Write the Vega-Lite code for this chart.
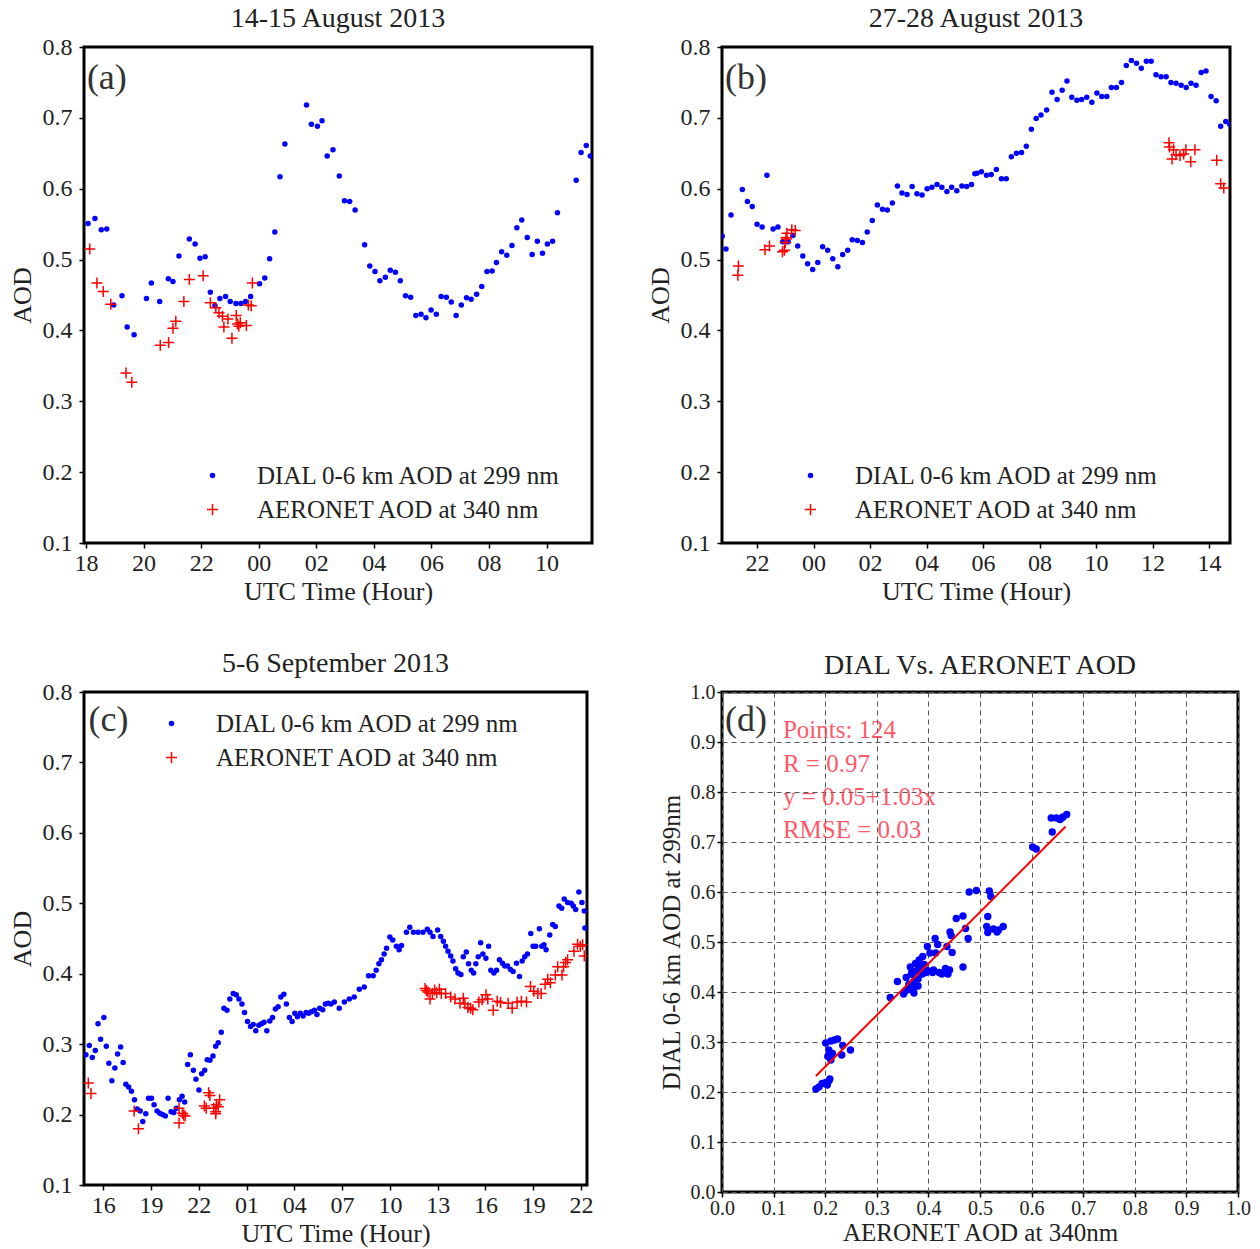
{
"$schema": "https://vega.github.io/schema/vega-lite/v6.json",
"background": "white",
"padding": {"left": 7, "top": 3, "right": 5, "bottom": 2},
"datasets": {
"a": [
{"hour":18.07,"aod":0.551,"series":"DIAL"},{"hour":18.31,"aod":0.558,"series":"DIAL"},{"hour":18.53,"aod":0.542,"series":"DIAL"},{"hour":18.72,"aod":0.543,"series":"DIAL"},{"hour":18.96,"aod":0.436,"series":"DIAL"},{"hour":19.25,"aod":0.449,"series":"DIAL"},{"hour":19.43,"aod":0.405,"series":"DIAL"},{"hour":19.67,"aod":0.394,"series":"DIAL"},{"hour":20.10,"aod":0.445,"series":"DIAL"},{"hour":20.27,"aod":0.467,"series":"DIAL"},{"hour":20.56,"aod":0.441,"series":"DIAL"},{"hour":20.86,"aod":0.473,"series":"DIAL"},{"hour":21.02,"aod":0.469,"series":"DIAL"},{"hour":21.23,"aod":0.505,"series":"DIAL"},{"hour":21.59,"aod":0.529,"series":"DIAL"},{"hour":21.79,"aod":0.522,"series":"DIAL"},{"hour":21.96,"aod":0.502,"series":"DIAL"},{"hour":22.14,"aod":0.504,"series":"DIAL"},{"hour":22.32,"aod":0.454,"series":"DIAL"},{"hour":22.48,"aod":0.435,"series":"DIAL"},{"hour":22.65,"aod":0.445,"series":"DIAL"},{"hour":22.85,"aod":0.448,"series":"DIAL"},{"hour":23.01,"aod":0.441,"series":"DIAL"},{"hour":23.21,"aod":0.438,"series":"DIAL"},{"hour":23.38,"aod":0.438,"series":"DIAL"},{"hour":23.54,"aod":0.441,"series":"DIAL"},{"hour":23.72,"aod":0.448,"series":"DIAL"},{"hour":24.03,"aod":0.466,"series":"DIAL"},{"hour":24.21,"aod":0.474,"series":"DIAL"},{"hour":24.38,"aod":0.501,"series":"DIAL"},{"hour":24.56,"aod":0.539,"series":"DIAL"},{"hour":24.74,"aod":0.617,"series":"DIAL"},{"hour":24.91,"aod":0.663,"series":"DIAL"},{"hour":25.66,"aod":0.718,"series":"DIAL"},{"hour":25.83,"aod":0.691,"series":"DIAL"},{"hour":26.04,"aod":0.688,"series":"DIAL"},{"hour":26.20,"aod":0.696,"series":"DIAL"},{"hour":26.38,"aod":0.646,"series":"DIAL"},{"hour":26.58,"aod":0.655,"series":"DIAL"},{"hour":26.80,"aod":0.618,"series":"DIAL"},{"hour":26.98,"aod":0.583,"series":"DIAL"},{"hour":27.16,"aod":0.582,"series":"DIAL"},{"hour":27.35,"aod":0.570,"series":"DIAL"},{"hour":27.68,"aod":0.521,"series":"DIAL"},{"hour":27.86,"aod":0.491,"series":"DIAL"},{"hour":28.04,"aod":0.483,"series":"DIAL"},{"hour":28.21,"aod":0.470,"series":"DIAL"},{"hour":28.40,"aod":0.475,"series":"DIAL"},{"hour":28.57,"aod":0.485,"series":"DIAL"},{"hour":28.75,"aod":0.482,"series":"DIAL"},{"hour":28.92,"aod":0.470,"series":"DIAL"},{"hour":29.10,"aod":0.449,"series":"DIAL"},{"hour":29.28,"aod":0.447,"series":"DIAL"},{"hour":29.46,"aod":0.421,"series":"DIAL"},{"hour":29.64,"aod":0.423,"series":"DIAL"},{"hour":29.81,"aod":0.418,"series":"DIAL"},{"hour":29.99,"aod":0.429,"series":"DIAL"},{"hour":30.17,"aod":0.423,"series":"DIAL"},{"hour":30.34,"aod":0.448,"series":"DIAL"},{"hour":30.52,"aod":0.447,"series":"DIAL"},{"hour":30.69,"aod":0.440,"series":"DIAL"},{"hour":30.86,"aod":0.421,"series":"DIAL"},{"hour":31.04,"aod":0.436,"series":"DIAL"},{"hour":31.22,"aod":0.446,"series":"DIAL"},{"hour":31.38,"aod":0.444,"series":"DIAL"},{"hour":31.57,"aod":0.451,"series":"DIAL"},{"hour":31.75,"aod":0.462,"series":"DIAL"},{"hour":31.93,"aod":0.483,"series":"DIAL"},{"hour":32.11,"aod":0.484,"series":"DIAL"},{"hour":32.26,"aod":0.496,"series":"DIAL"},{"hour":32.44,"aod":0.511,"series":"DIAL"},{"hour":32.62,"aod":0.506,"series":"DIAL"},{"hour":32.80,"aod":0.520,"series":"DIAL"},{"hour":32.97,"aod":0.545,"series":"DIAL"},{"hour":33.14,"aod":0.556,"series":"DIAL"},{"hour":33.33,"aod":0.531,"series":"DIAL"},{"hour":33.50,"aod":0.507,"series":"DIAL"},{"hour":33.68,"aod":0.526,"series":"DIAL"},{"hour":33.86,"aod":0.509,"series":"DIAL"},{"hour":34.03,"aod":0.522,"series":"DIAL"},{"hour":34.21,"aod":0.526,"series":"DIAL"},{"hour":34.38,"aod":0.566,"series":"DIAL"},{"hour":35.03,"aod":0.612,"series":"DIAL"},{"hour":35.20,"aod":0.651,"series":"DIAL"},{"hour":35.38,"aod":0.661,"series":"DIAL"},{"hour":35.52,"aod":0.646,"series":"DIAL"},
{"hour":18.13,"aod":0.515,"series":"AERONET"},{"hour":18.38,"aod":0.467,"series":"AERONET"},{"hour":18.60,"aod":0.455,"series":"AERONET"},{"hour":18.86,"aod":0.437,"series":"AERONET"},{"hour":19.39,"aod":0.340,"series":"AERONET"},{"hour":19.59,"aod":0.327,"series":"AERONET"},{"hour":20.58,"aod":0.379,"series":"AERONET"},{"hour":20.87,"aod":0.383,"series":"AERONET"},{"hour":21.02,"aod":0.403,"series":"AERONET"},{"hour":21.12,"aod":0.413,"series":"AERONET"},{"hour":21.40,"aod":0.441,"series":"AERONET"},{"hour":21.59,"aod":0.472,"series":"AERONET"},{"hour":22.07,"aod":0.477,"series":"AERONET"},{"hour":22.32,"aod":0.439,"series":"AERONET"},{"hour":22.51,"aod":0.432,"series":"AERONET"},{"hour":22.62,"aod":0.425,"series":"AERONET"},{"hour":22.74,"aod":0.420,"series":"AERONET"},{"hour":22.79,"aod":0.405,"series":"AERONET"},{"hour":22.93,"aod":0.416,"series":"AERONET"},{"hour":23.07,"aod":0.389,"series":"AERONET"},{"hour":23.22,"aod":0.421,"series":"AERONET"},{"hour":23.26,"aod":0.409,"series":"AERONET"},{"hour":23.31,"aod":0.406,"series":"AERONET"},{"hour":23.36,"aod":0.411,"series":"AERONET"},{"hour":23.57,"aod":0.407,"series":"AERONET"},{"hour":23.64,"aod":0.436,"series":"AERONET"},{"hour":23.74,"aod":0.435,"series":"AERONET"},{"hour":23.78,"aod":0.467,"series":"AERONET"}
],
"b": [
{"hour":20.77,"aod":0.533,"series":"DIAL"},{"hour":20.90,"aod":0.515,"series":"DIAL"},{"hour":21.08,"aod":0.563,"series":"DIAL"},{"hour":21.48,"aod":0.599,"series":"DIAL"},{"hour":21.66,"aod":0.582,"series":"DIAL"},{"hour":21.83,"aod":0.575,"series":"DIAL"},{"hour":22.00,"aod":0.550,"series":"DIAL"},{"hour":22.18,"aod":0.546,"series":"DIAL"},{"hour":22.35,"aod":0.619,"series":"DIAL"},{"hour":22.57,"aod":0.543,"series":"DIAL"},{"hour":22.74,"aod":0.546,"series":"DIAL"},{"hour":22.91,"aod":0.525,"series":"DIAL"},{"hour":23.10,"aod":0.525,"series":"DIAL"},{"hour":23.27,"aod":0.534,"series":"DIAL"},{"hour":23.44,"aod":0.519,"series":"DIAL"},{"hour":23.62,"aod":0.505,"series":"DIAL"},{"hour":23.79,"aod":0.494,"series":"DIAL"},{"hour":23.97,"aod":0.486,"series":"DIAL"},{"hour":24.15,"aod":0.496,"series":"DIAL"},{"hour":24.32,"aod":0.518,"series":"DIAL"},{"hour":24.50,"aod":0.513,"series":"DIAL"},{"hour":24.68,"aod":0.501,"series":"DIAL"},{"hour":24.86,"aod":0.490,"series":"DIAL"},{"hour":25.03,"aod":0.507,"series":"DIAL"},{"hour":25.21,"aod":0.513,"series":"DIAL"},{"hour":25.37,"aod":0.528,"series":"DIAL"},{"hour":25.55,"aod":0.527,"series":"DIAL"},{"hour":25.73,"aod":0.524,"series":"DIAL"},{"hour":25.90,"aod":0.539,"series":"DIAL"},{"hour":26.08,"aod":0.555,"series":"DIAL"},{"hour":26.26,"aod":0.577,"series":"DIAL"},{"hour":26.44,"aod":0.571,"series":"DIAL"},{"hour":26.61,"aod":0.570,"series":"DIAL"},{"hour":26.79,"aod":0.580,"series":"DIAL"},{"hour":26.97,"aod":0.604,"series":"DIAL"},{"hour":27.13,"aod":0.594,"series":"DIAL"},{"hour":27.31,"aod":0.592,"series":"DIAL"},{"hour":27.49,"aod":0.603,"series":"DIAL"},{"hour":27.66,"aod":0.593,"series":"DIAL"},{"hour":27.84,"aod":0.591,"series":"DIAL"},{"hour":28.02,"aod":0.600,"series":"DIAL"},{"hour":28.19,"aod":0.602,"series":"DIAL"},{"hour":28.37,"aod":0.606,"series":"DIAL"},{"hour":28.54,"aod":0.602,"series":"DIAL"},{"hour":28.72,"aod":0.596,"series":"DIAL"},{"hour":28.89,"aod":0.602,"series":"DIAL"},{"hour":29.07,"aod":0.597,"series":"DIAL"},{"hour":29.25,"aod":0.604,"series":"DIAL"},{"hour":29.42,"aod":0.603,"series":"DIAL"},{"hour":29.59,"aod":0.606,"series":"DIAL"},{"hour":29.71,"aod":0.621,"series":"DIAL"},{"hour":29.78,"aod":0.622,"series":"DIAL"},{"hour":29.94,"aod":0.624,"series":"DIAL"},{"hour":30.12,"aod":0.619,"series":"DIAL"},{"hour":30.29,"aod":0.620,"series":"DIAL"},{"hour":30.47,"aod":0.627,"series":"DIAL"},{"hour":30.65,"aod":0.614,"series":"DIAL"},{"hour":30.82,"aod":0.614,"series":"DIAL"},{"hour":31.00,"aod":0.645,"series":"DIAL"},{"hour":31.18,"aod":0.650,"series":"DIAL"},{"hour":31.36,"aod":0.651,"series":"DIAL"},{"hour":31.53,"aod":0.660,"series":"DIAL"},{"hour":31.71,"aod":0.684,"series":"DIAL"},{"hour":31.88,"aod":0.699,"series":"DIAL"},{"hour":32.05,"aod":0.704,"series":"DIAL"},{"hour":32.25,"aod":0.711,"series":"DIAL"},{"hour":32.44,"aod":0.736,"series":"DIAL"},{"hour":32.62,"aod":0.726,"series":"DIAL"},{"hour":32.80,"aod":0.739,"series":"DIAL"},{"hour":32.97,"aod":0.752,"series":"DIAL"},{"hour":33.14,"aod":0.729,"series":"DIAL"},{"hour":33.32,"aod":0.725,"series":"DIAL"},{"hour":33.49,"aod":0.726,"series":"DIAL"},{"hour":33.67,"aod":0.729,"series":"DIAL"},{"hour":33.85,"aod":0.722,"series":"DIAL"},{"hour":34.03,"aod":0.735,"series":"DIAL"},{"hour":34.20,"aod":0.730,"series":"DIAL"},{"hour":34.38,"aod":0.730,"series":"DIAL"},{"hour":34.54,"aod":0.743,"series":"DIAL"},{"hour":34.72,"aod":0.743,"series":"DIAL"},{"hour":34.90,"aod":0.750,"series":"DIAL"},{"hour":35.07,"aod":0.774,"series":"DIAL"},{"hour":35.25,"aod":0.781,"series":"DIAL"},{"hour":35.43,"aod":0.777,"series":"DIAL"},{"hour":35.60,"aod":0.770,"series":"DIAL"},{"hour":35.78,"aod":0.780,"series":"DIAL"},{"hour":35.95,"aod":0.780,"series":"DIAL"},{"hour":36.12,"aod":0.761,"series":"DIAL"},{"hour":36.30,"aod":0.758,"series":"DIAL"},{"hour":36.48,"aod":0.758,"series":"DIAL"},{"hour":36.65,"aod":0.750,"series":"DIAL"},{"hour":36.83,"aod":0.749,"series":"DIAL"},{"hour":37.01,"aod":0.746,"series":"DIAL"},{"hour":37.19,"aod":0.743,"series":"DIAL"},{"hour":37.36,"aod":0.749,"series":"DIAL"},{"hour":37.54,"aod":0.746,"series":"DIAL"},{"hour":37.72,"aod":0.764,"series":"DIAL"},{"hour":37.89,"aod":0.766,"series":"DIAL"},{"hour":38.07,"aod":0.730,"series":"DIAL"},{"hour":38.25,"aod":0.724,"series":"DIAL"},{"hour":38.41,"aod":0.688,"series":"DIAL"},{"hour":38.59,"aod":0.695,"series":"DIAL"},{"hour":38.73,"aod":0.691,"series":"DIAL"},
{"hour":21.34,"aod":0.491,"series":"AERONET"},{"hour":21.32,"aod":0.478,"series":"AERONET"},{"hour":22.28,"aod":0.514,"series":"AERONET"},{"hour":22.44,"aod":0.519,"series":"AERONET"},{"hour":22.90,"aod":0.511,"series":"AERONET"},{"hour":22.97,"aod":0.513,"series":"AERONET"},{"hour":23.00,"aod":0.524,"series":"AERONET"},{"hour":23.03,"aod":0.531,"series":"AERONET"},{"hour":23.04,"aod":0.529,"series":"AERONET"},{"hour":23.06,"aod":0.537,"series":"AERONET"},{"hour":23.23,"aod":0.542,"series":"AERONET"},{"hour":23.35,"aod":0.541,"series":"AERONET"},
{"hour":36.58,"aod":0.665,"series":"AERONET"},{"hour":36.60,"aod":0.659,"series":"AERONET"},{"hour":36.74,"aod":0.655,"series":"AERONET"},{"hour":36.69,"aod":0.642,"series":"AERONET"},{"hour":36.83,"aod":0.648,"series":"AERONET"},{"hour":36.97,"aod":0.647,"series":"AERONET"},{"hour":37.10,"aod":0.649,"series":"AERONET"},{"hour":37.18,"aod":0.655,"series":"AERONET"},{"hour":37.35,"aod":0.638,"series":"AERONET"},{"hour":37.50,"aod":0.655,"series":"AERONET"},{"hour":38.27,"aod":0.640,"series":"AERONET"},{"hour":38.41,"aod":0.607,"series":"AERONET"},{"hour":38.52,"aod":0.601,"series":"AERONET"}
],
"c": [
{"hour":14.91,"aod":0.285,"series":"DIAL"},{"hour":15.12,"aod":0.298,"series":"DIAL"},{"hour":15.31,"aod":0.281,"series":"DIAL"},{"hour":15.50,"aod":0.291,"series":"DIAL"},{"hour":15.67,"aod":0.329,"series":"DIAL"},{"hour":15.83,"aod":0.307,"series":"DIAL"},{"hour":16.04,"aod":0.338,"series":"DIAL"},{"hour":16.19,"aod":0.297,"series":"DIAL"},{"hour":16.35,"aod":0.273,"series":"DIAL"},{"hour":16.54,"aod":0.248,"series":"DIAL"},{"hour":16.73,"aod":0.266,"series":"DIAL"},{"hour":16.90,"aod":0.286,"series":"DIAL"},{"hour":17.09,"aod":0.296,"series":"DIAL"},{"hour":17.25,"aod":0.274,"series":"DIAL"},{"hour":17.42,"aod":0.243,"series":"DIAL"},{"hour":17.59,"aod":0.239,"series":"DIAL"},{"hour":17.77,"aod":0.233,"series":"DIAL"},{"hour":17.96,"aod":0.221,"series":"DIAL"},{"hour":18.13,"aod":0.208,"series":"DIAL"},{"hour":18.32,"aod":0.205,"series":"DIAL"},{"hour":18.48,"aod":0.190,"series":"DIAL"},{"hour":18.67,"aod":0.201,"series":"DIAL"},{"hour":18.84,"aod":0.223,"series":"DIAL"},{"hour":19.03,"aod":0.223,"series":"DIAL"},{"hour":19.19,"aod":0.214,"series":"DIAL"},{"hour":19.38,"aod":0.205,"series":"DIAL"},{"hour":19.55,"aod":0.202,"series":"DIAL"},{"hour":19.72,"aod":0.200,"series":"DIAL"},{"hour":19.90,"aod":0.198,"series":"DIAL"},{"hour":20.07,"aod":0.223,"series":"DIAL"},{"hour":20.26,"aod":0.204,"series":"DIAL"},{"hour":20.43,"aod":0.203,"series":"DIAL"},{"hour":20.59,"aod":0.209,"series":"DIAL"},{"hour":20.78,"aod":0.221,"series":"DIAL"},{"hour":20.95,"aod":0.226,"series":"DIAL"},{"hour":21.11,"aod":0.218,"series":"DIAL"},{"hour":21.30,"aod":0.271,"series":"DIAL"},{"hour":21.47,"aod":0.285,"series":"DIAL"},{"hour":21.66,"aod":0.263,"series":"DIAL"},{"hour":21.82,"aod":0.250,"series":"DIAL"},{"hour":22.01,"aod":0.235,"series":"DIAL"},{"hour":22.18,"aod":0.258,"series":"DIAL"},{"hour":22.37,"aod":0.263,"series":"DIAL"},{"hour":22.53,"aod":0.278,"series":"DIAL"},{"hour":22.70,"aod":0.277,"series":"DIAL"},{"hour":22.89,"aod":0.283,"series":"DIAL"},{"hour":23.06,"aod":0.297,"series":"DIAL"},{"hour":23.22,"aod":0.302,"series":"DIAL"},{"hour":23.41,"aod":0.317,"series":"DIAL"},{"hour":23.58,"aod":0.351,"series":"DIAL"},{"hour":23.77,"aod":0.348,"series":"DIAL"},{"hour":23.95,"aod":0.364,"series":"DIAL"},{"hour":24.16,"aod":0.372,"series":"DIAL"},{"hour":24.35,"aod":0.370,"series":"DIAL"},{"hour":24.52,"aod":0.364,"series":"DIAL"},{"hour":24.71,"aod":0.357,"series":"DIAL"},{"hour":24.87,"aod":0.345,"series":"DIAL"},{"hour":25.06,"aod":0.332,"series":"DIAL"},{"hour":25.25,"aod":0.325,"series":"DIAL"},{"hour":25.42,"aod":0.328,"series":"DIAL"},{"hour":25.58,"aod":0.319,"series":"DIAL"},{"hour":25.77,"aod":0.327,"series":"DIAL"},{"hour":25.94,"aod":0.329,"series":"DIAL"},{"hour":26.10,"aod":0.331,"series":"DIAL"},{"hour":26.27,"aod":0.319,"series":"DIAL"},{"hour":26.46,"aod":0.333,"series":"DIAL"},{"hour":26.63,"aod":0.338,"series":"DIAL"},{"hour":26.81,"aod":0.350,"series":"DIAL"},{"hour":26.98,"aod":0.353,"series":"DIAL"},{"hour":27.15,"aod":0.367,"series":"DIAL"},{"hour":27.34,"aod":0.371,"series":"DIAL"},{"hour":27.50,"aod":0.357,"series":"DIAL"},{"hour":27.69,"aod":0.338,"series":"DIAL"},{"hour":27.86,"aod":0.332,"series":"DIAL"},{"hour":28.03,"aod":0.344,"series":"DIAL"},{"hour":28.19,"aod":0.339,"series":"DIAL"},{"hour":28.38,"aod":0.344,"series":"DIAL"},{"hour":28.55,"aod":0.340,"series":"DIAL"},{"hour":28.74,"aod":0.345,"series":"DIAL"},{"hour":28.90,"aod":0.344,"series":"DIAL"},{"hour":29.07,"aod":0.346,"series":"DIAL"},{"hour":29.26,"aod":0.348,"series":"DIAL"},{"hour":29.42,"aod":0.342,"series":"DIAL"},{"hour":29.59,"aod":0.351,"series":"DIAL"},{"hour":29.78,"aod":0.349,"series":"DIAL"},{"hour":29.95,"aod":0.357,"series":"DIAL"},{"hour":30.13,"aod":0.358,"series":"DIAL"},{"hour":30.30,"aod":0.357,"series":"DIAL"},{"hour":30.51,"aod":0.360,"series":"DIAL"},{"hour":30.82,"aod":0.351,"series":"DIAL"},{"hour":31.14,"aod":0.360,"series":"DIAL"},{"hour":31.45,"aod":0.364,"series":"DIAL"},{"hour":31.76,"aod":0.367,"series":"DIAL"},{"hour":32.08,"aod":0.378,"series":"DIAL"},{"hour":32.39,"aod":0.381,"series":"DIAL"},{"hour":32.66,"aod":0.397,"series":"DIAL"},{"hour":32.95,"aod":0.397,"series":"DIAL"},{"hour":33.14,"aod":0.405,"series":"DIAL"},{"hour":33.31,"aod":0.414,"series":"DIAL"},{"hour":33.47,"aod":0.420,"series":"DIAL"},{"hour":33.64,"aod":0.428,"series":"DIAL"},{"hour":33.79,"aod":0.436,"series":"DIAL"},{"hour":34.00,"aod":0.452,"series":"DIAL"},{"hour":34.18,"aod":0.448,"series":"DIAL"},{"hour":34.41,"aod":0.439,"series":"DIAL"},{"hour":34.58,"aod":0.434,"series":"DIAL"},{"hour":34.73,"aod":0.440,"series":"DIAL"},{"hour":35.04,"aod":0.459,"series":"DIAL"},{"hour":35.25,"aod":0.466,"series":"DIAL"},{"hour":35.48,"aod":0.459,"series":"DIAL"},{"hour":35.77,"aod":0.459,"series":"DIAL"},{"hour":36.08,"aod":0.459,"series":"DIAL"},{"hour":36.35,"aod":0.463,"series":"DIAL"},{"hour":36.52,"aod":0.459,"series":"DIAL"},{"hour":36.71,"aod":0.453,"series":"DIAL"},{"hour":37.00,"aod":0.462,"series":"DIAL"},{"hour":37.19,"aod":0.453,"series":"DIAL"},{"hour":37.36,"aod":0.446,"series":"DIAL"},{"hour":37.50,"aod":0.439,"series":"DIAL"},{"hour":37.65,"aod":0.432,"series":"DIAL"},{"hour":37.82,"aod":0.425,"series":"DIAL"},{"hour":37.96,"aod":0.418,"series":"DIAL"},{"hour":38.13,"aod":0.407,"series":"DIAL"},{"hour":38.28,"aod":0.401,"series":"DIAL"},{"hour":38.46,"aod":0.399,"series":"DIAL"},{"hour":38.61,"aod":0.424,"series":"DIAL"},{"hour":38.80,"aod":0.431,"series":"DIAL"},{"hour":38.94,"aod":0.414,"series":"DIAL"},{"hour":39.11,"aod":0.405,"series":"DIAL"},{"hour":39.26,"aod":0.401,"series":"DIAL"},{"hour":39.40,"aod":0.414,"series":"DIAL"},{"hour":39.55,"aod":0.424,"series":"DIAL"},{"hour":39.70,"aod":0.444,"series":"DIAL"},{"hour":39.84,"aod":0.428,"series":"DIAL"},{"hour":40.03,"aod":0.422,"series":"DIAL"},{"hour":40.20,"aod":0.439,"series":"DIAL"},{"hour":40.34,"aod":0.405,"series":"DIAL"},{"hour":40.53,"aod":0.401,"series":"DIAL"},{"hour":40.70,"aod":0.405,"series":"DIAL"},{"hour":40.88,"aod":0.420,"series":"DIAL"},{"hour":41.07,"aod":0.415,"series":"DIAL"},{"hour":41.22,"aod":0.411,"series":"DIAL"},{"hour":41.39,"aod":0.411,"series":"DIAL"},{"hour":41.57,"aod":0.406,"series":"DIAL"},{"hour":41.74,"aod":0.403,"series":"DIAL"},{"hour":41.95,"aod":0.415,"series":"DIAL"},{"hour":42.14,"aod":0.396,"series":"DIAL"},{"hour":42.31,"aod":0.418,"series":"DIAL"},{"hour":42.47,"aod":0.424,"series":"DIAL"},{"hour":42.64,"aod":0.428,"series":"DIAL"},{"hour":42.85,"aod":0.457,"series":"DIAL"},{"hour":42.99,"aod":0.439,"series":"DIAL"},{"hour":43.16,"aod":0.439,"series":"DIAL"},{"hour":43.39,"aod":0.464,"series":"DIAL"},{"hour":43.54,"aod":0.439,"series":"DIAL"},{"hour":43.68,"aod":0.441,"series":"DIAL"},{"hour":43.81,"aod":0.434,"series":"DIAL"},{"hour":44.04,"aod":0.455,"series":"DIAL"},{"hour":44.23,"aod":0.470,"series":"DIAL"},{"hour":44.39,"aod":0.467,"series":"DIAL"},{"hour":44.62,"aod":0.496,"series":"DIAL"},{"hour":44.79,"aod":0.493,"series":"DIAL"},{"hour":44.95,"aod":0.506,"series":"DIAL"},{"hour":45.16,"aod":0.501,"series":"DIAL"},{"hour":45.39,"aod":0.500,"series":"DIAL"},{"hour":45.52,"aod":0.496,"series":"DIAL"},{"hour":45.67,"aod":0.491,"series":"DIAL"},{"hour":45.87,"aod":0.516,"series":"DIAL"},{"hour":46.06,"aod":0.501,"series":"DIAL"},{"hour":46.21,"aod":0.489,"series":"DIAL"},{"hour":46.25,"aod":0.465,"series":"DIAL"},
{"hour":15.06,"aod":0.245,"series":"AERONET"},{"hour":15.23,"aod":0.230,"series":"AERONET"},{"hour":17.94,"aod":0.205,"series":"AERONET"},{"hour":18.21,"aod":0.180,"series":"AERONET"},{"hour":20.76,"aod":0.209,"series":"AERONET"},{"hour":20.76,"aod":0.188,"series":"AERONET"},{"hour":20.97,"aod":0.202,"series":"AERONET"},{"hour":21.05,"aod":0.199,"series":"AERONET"},{"hour":21.14,"aod":0.198,"series":"AERONET"},{"hour":22.35,"aod":0.212,"series":"AERONET"},{"hour":22.47,"aod":0.209,"series":"AERONET"},{"hour":22.62,"aod":0.231,"series":"AERONET"},{"hour":22.70,"aod":0.227,"series":"AERONET"},{"hour":22.93,"aod":0.209,"series":"AERONET"},{"hour":23.06,"aod":0.204,"series":"AERONET"},{"hour":23.10,"aod":0.214,"series":"AERONET"},{"hour":23.22,"aod":0.211,"series":"AERONET"},{"hour":23.31,"aod":0.221,"series":"AERONET"},{"hour":23.06,"aod":0.201,"series":"AERONET"},
{"hour":36.21,"aod":0.379,"series":"AERONET"},{"hour":36.29,"aod":0.376,"series":"AERONET"},{"hour":36.39,"aod":0.374,"series":"AERONET"},{"hour":36.52,"aod":0.364,"series":"AERONET"},{"hour":36.67,"aod":0.372,"series":"AERONET"},{"hour":36.81,"aod":0.377,"series":"AERONET"},{"hour":36.94,"aod":0.373,"series":"AERONET"},{"hour":37.11,"aod":0.378,"series":"AERONET"},{"hour":37.23,"aod":0.372,"series":"AERONET"},{"hour":37.50,"aod":0.372,"series":"AERONET"},{"hour":37.82,"aod":0.367,"series":"AERONET"},{"hour":38.09,"aod":0.364,"series":"AERONET"},{"hour":38.40,"aod":0.358,"series":"AERONET"},{"hour":38.61,"aod":0.365,"series":"AERONET"},{"hour":38.71,"aod":0.357,"series":"AERONET"},{"hour":38.90,"aod":0.352,"series":"AERONET"},{"hour":39.07,"aod":0.351,"series":"AERONET"},{"hour":39.21,"aod":0.349,"series":"AERONET"},{"hour":39.59,"aod":0.360,"series":"AERONET"},{"hour":39.80,"aod":0.363,"series":"AERONET"},{"hour":40.03,"aod":0.370,"series":"AERONET"},{"hour":40.15,"aod":0.364,"series":"AERONET"},{"hour":40.49,"aod":0.348,"series":"AERONET"},{"hour":40.74,"aod":0.361,"series":"AERONET"},{"hour":40.95,"aod":0.359,"series":"AERONET"},{"hour":41.43,"aod":0.358,"series":"AERONET"},{"hour":41.68,"aod":0.351,"series":"AERONET"},{"hour":41.99,"aod":0.360,"series":"AERONET"},{"hour":42.26,"aod":0.361,"series":"AERONET"},{"hour":42.58,"aod":0.360,"series":"AERONET"},{"hour":42.83,"aod":0.382,"series":"AERONET"},{"hour":43.04,"aod":0.375,"series":"AERONET"},{"hour":43.29,"aod":0.372,"series":"AERONET"},{"hour":43.50,"aod":0.372,"series":"AERONET"},{"hour":43.75,"aod":0.385,"series":"AERONET"},{"hour":43.91,"aod":0.392,"series":"AERONET"},{"hour":44.08,"aod":0.387,"series":"AERONET"},{"hour":44.39,"aod":0.398,"series":"AERONET"},{"hour":44.54,"aod":0.410,"series":"AERONET"},{"hour":44.81,"aod":0.398,"series":"AERONET"},{"hour":44.91,"aod":0.410,"series":"AERONET"},{"hour":45.04,"aod":0.416,"series":"AERONET"},{"hour":45.16,"aod":0.420,"series":"AERONET"},{"hour":45.56,"aod":0.432,"series":"AERONET"},{"hour":45.79,"aod":0.442,"series":"AERONET"},{"hour":45.96,"aod":0.439,"series":"AERONET"},{"hour":46.10,"aod":0.441,"series":"AERONET"},{"hour":46.21,"aod":0.425,"series":"AERONET"}
],
"d": [
{"aeronet":0.182,"dial":0.206},{"aeronet":0.188,"dial":0.210},{"aeronet":0.194,"dial":0.217},{"aeronet":0.201,"dial":0.219},{"aeronet":0.207,"dial":0.222},{"aeronet":0.209,"dial":0.226},{"aeronet":0.204,"dial":0.214},{"aeronet":0.201,"dial":0.298},{"aeronet":0.211,"dial":0.302},{"aeronet":0.224,"dial":0.306},{"aeronet":0.207,"dial":0.284},{"aeronet":0.214,"dial":0.277},{"aeronet":0.211,"dial":0.264},{"aeronet":0.234,"dial":0.293},{"aeronet":0.232,"dial":0.274},{"aeronet":0.249,"dial":0.284},{"aeronet":0.218,"dial":0.304},{"aeronet":0.205,"dial":0.271},
{"aeronet":0.326,"dial":0.389},{"aeronet":0.340,"dial":0.421},{"aeronet":0.352,"dial":0.396},{"aeronet":0.357,"dial":0.429},{"aeronet":0.359,"dial":0.405},{"aeronet":0.362,"dial":0.415},{"aeronet":0.365,"dial":0.450},{"aeronet":0.367,"dial":0.436},{"aeronet":0.370,"dial":0.419},{"aeronet":0.372,"dial":0.398},{"aeronet":0.375,"dial":0.457},{"aeronet":0.378,"dial":0.443},{"aeronet":0.380,"dial":0.426},{"aeronet":0.382,"dial":0.464},{"aeronet":0.385,"dial":0.450},{"aeronet":0.388,"dial":0.436},{"aeronet":0.389,"dial":0.471},{"aeronet":0.395,"dial":0.439},{"aeronet":0.398,"dial":0.491},{"aeronet":0.403,"dial":0.478},{"aeronet":0.408,"dial":0.439},{"aeronet":0.413,"dial":0.507},{"aeronet":0.414,"dial":0.478},{"aeronet":0.418,"dial":0.495},{"aeronet":0.421,"dial":0.439},{"aeronet":0.426,"dial":0.436},{"aeronet":0.431,"dial":0.439},{"aeronet":0.436,"dial":0.491},{"aeronet":0.438,"dial":0.436},{"aeronet":0.441,"dial":0.444},{"aeronet":0.442,"dial":0.520},{"aeronet":0.444,"dial":0.513},{"aeronet":0.446,"dial":0.479},{"aeronet":0.454,"dial":0.547},{"aeronet":0.467,"dial":0.552},{"aeronet":0.467,"dial":0.450},{"aeronet":0.472,"dial":0.527},{"aeronet":0.477,"dial":0.507},{"aeronet":0.479,"dial":0.600},{"aeronet":0.493,"dial":0.603},{"aeronet":0.518,"dial":0.602},{"aeronet":0.521,"dial":0.591},{"aeronet":0.515,"dial":0.551},{"aeronet":0.513,"dial":0.531},{"aeronet":0.515,"dial":0.519},{"aeronet":0.526,"dial":0.526},{"aeronet":0.536,"dial":0.524},{"aeronet":0.545,"dial":0.531},{"aeronet":0.533,"dial":0.520},{"aeronet":0.380,"dial":0.412},{"aeronet":0.355,"dial":0.402},{"aeronet":0.398,"dial":0.443},{"aeronet":0.362,"dial":0.405},{"aeronet":0.372,"dial":0.409},{"aeronet":0.374,"dial":0.428},{"aeronet":0.392,"dial":0.455},{"aeronet":0.368,"dial":0.440},{"aeronet":0.410,"dial":0.444},{"aeronet":0.433,"dial":0.447},
{"aeronet":0.602,"dial":0.690},{"aeronet":0.609,"dial":0.686},{"aeronet":0.640,"dial":0.720},{"aeronet":0.638,"dial":0.748},{"aeronet":0.648,"dial":0.748},{"aeronet":0.655,"dial":0.745},{"aeronet":0.661,"dial":0.750},{"aeronet":0.668,"dial":0.755},{"aeronet":0.658,"dial":0.748}
],
"dline": [{"aeronet":0.182,"dial":0.232},{"aeronet":0.666,"dial":0.731}],
"dtext": [
{"aeronet":0.118,"dial":0.925,"label":"Points: 124"},
{"aeronet":0.118,"dial":0.857,"label":"R = 0.97"},
{"aeronet":0.118,"dial":0.790,"label":"y = 0.05+1.03x"},
{"aeronet":0.118,"dial":0.725,"label":"RMSE = 0.03"}
]
},
"columns": 2,
"bounds": "flush",
"spacing": {"row": 149, "column": 130},
"resolve": {
"scale": {"x": "independent", "y": "independent", "fill": "independent", "stroke": "independent", "shape": "independent", "size": "independent"},
"legend": {"fill": "independent", "stroke": "independent", "shape": "independent", "size": "independent"}
},
"concat": [
{
"title": "14-15 August 2013",
"width": 508, "height": 496,
"layer": [
{
"data": {"name": "a"},
"mark": {"type": "point", "strokeWidth": 1.5, "opacity": 1, "clip": true},
"encoding": {
"x": {"field": "hour", "type": "quantitative", "scale": {"domain": [17.93, 35.58], "nice": false, "zero": false}, "axis": {"title": "UTC Time (Hour)", "values": [18, 20, 22, 24, 26, 28, 30, 32, 34], "labelExpr": "(datum.value % 24 < 10 ? '0' : '') + (datum.value % 24)", "labelPadding": 3, "titlePadding": 3}},
"y": {"field": "aod", "type": "quantitative", "scale": {"domain": [0.1, 0.8], "nice": false, "zero": false}, "axis": {"title": "AOD", "values": [0.1, 0.2, 0.3, 0.4, 0.5, 0.6, 0.7, 0.8], "format": ".1f"}},
"fill": {"field": "series", "type": "nominal", "scale": {"domain": ["DIAL", "AERONET"], "range": ["#0000ff", "#ff0000"]}, "legend": {"title": null, "orient": "none", "legendX": 116, "legendY": 416, "labelExpr": "datum.label == 'DIAL' ? 'DIAL 0-6 km AOD at 299 nm' : 'AERONET AOD at 340 nm'"}},
"stroke": {"field": "series", "type": "nominal", "scale": {"domain": ["DIAL", "AERONET"], "range": ["#0000ff", "#ff0000"]}, "legend": {"title": null, "orient": "none", "legendX": 116, "legendY": 416, "labelExpr": "datum.label == 'DIAL' ? 'DIAL 0-6 km AOD at 299 nm' : 'AERONET AOD at 340 nm'"}},
"shape": {"field": "series", "type": "nominal", "scale": {"domain": ["DIAL", "AERONET"], "range": ["circle", "M-1,0L1,0M0,-1L0,1"]}, "legend": {"title": null, "orient": "none", "legendX": 116, "legendY": 416, "labelExpr": "datum.label == 'DIAL' ? 'DIAL 0-6 km AOD at 299 nm' : 'AERONET AOD at 340 nm'"}},
"size": {"field": "series", "type": "nominal", "scale": {"domain": ["DIAL", "AERONET"], "range": [16, 121]}, "legend": {"title": null, "orient": "none", "legendX": 116, "legendY": 416, "labelExpr": "datum.label == 'DIAL' ? 'DIAL 0-6 km AOD at 299 nm' : 'AERONET AOD at 340 nm'"}}
}
},
{
"data": {"values": [{"panel": "(a)"}]},
"mark": {"type": "text", "align": "left", "baseline": "middle", "fontSize": 36, "color": "#333"},
"encoding": {"x": {"datum": 18.03}, "y": {"datum": 0.756}, "text": {"field": "panel"}}
}
]
},
{
"title": "27-28 August 2013",
"width": 508, "height": 496,
"layer": [
{
"data": {"name": "b"},
"mark": {"type": "point", "strokeWidth": 1.5, "opacity": 1, "clip": true},
"encoding": {
"x": {"field": "hour", "type": "quantitative", "scale": {"domain": [20.76, 38.74], "nice": false, "zero": false}, "axis": {"title": "UTC Time (Hour)", "values": [22, 24, 26, 28, 30, 32, 34, 36, 38], "labelExpr": "(datum.value % 24 < 10 ? '0' : '') + (datum.value % 24)", "labelPadding": 3, "titlePadding": 3}},
"y": {"field": "aod", "type": "quantitative", "scale": {"domain": [0.1, 0.8], "nice": false, "zero": false}, "axis": {"title": "AOD", "values": [0.1, 0.2, 0.3, 0.4, 0.5, 0.6, 0.7, 0.8], "format": ".1f"}},
"fill": {"field": "series", "type": "nominal", "scale": {"domain": ["DIAL", "AERONET"], "range": ["#0000ff", "#ff0000"]}, "legend": {"title": null, "orient": "none", "legendX": 76, "legendY": 416, "labelExpr": "datum.label == 'DIAL' ? 'DIAL 0-6 km AOD at 299 nm' : 'AERONET AOD at 340 nm'"}},
"stroke": {"field": "series", "type": "nominal", "scale": {"domain": ["DIAL", "AERONET"], "range": ["#0000ff", "#ff0000"]}, "legend": {"title": null, "orient": "none", "legendX": 76, "legendY": 416, "labelExpr": "datum.label == 'DIAL' ? 'DIAL 0-6 km AOD at 299 nm' : 'AERONET AOD at 340 nm'"}},
"shape": {"field": "series", "type": "nominal", "scale": {"domain": ["DIAL", "AERONET"], "range": ["circle", "M-1,0L1,0M0,-1L0,1"]}, "legend": {"title": null, "orient": "none", "legendX": 76, "legendY": 416, "labelExpr": "datum.label == 'DIAL' ? 'DIAL 0-6 km AOD at 299 nm' : 'AERONET AOD at 340 nm'"}},
"size": {"field": "series", "type": "nominal", "scale": {"domain": ["DIAL", "AERONET"], "range": [16, 121]}, "legend": {"title": null, "orient": "none", "legendX": 76, "legendY": 416, "labelExpr": "datum.label == 'DIAL' ? 'DIAL 0-6 km AOD at 299 nm' : 'AERONET AOD at 340 nm'"}}
}
},
{
"data": {"values": [{"panel": "(b)"}]},
"mark": {"type": "text", "align": "left", "baseline": "middle", "fontSize": 36, "color": "#333"},
"encoding": {"x": {"datum": 20.87}, "y": {"datum": 0.756}, "text": {"field": "panel"}}
}
]
},
{
"title": "5-6 September 2013",
"width": 503, "height": 493,
"layer": [
{
"data": {"name": "c"},
"mark": {"type": "point", "strokeWidth": 1.5, "opacity": 1, "clip": true},
"encoding": {
"x": {"field": "hour", "type": "quantitative", "scale": {"domain": [14.79, 46.38], "nice": false, "zero": false}, "axis": {"title": "UTC Time (Hour)", "values": [16, 19, 22, 25, 28, 31, 34, 37, 40, 43, 46], "labelExpr": "(datum.value % 24 < 10 ? '0' : '') + (datum.value % 24)", "labelPadding": 3, "titlePadding": 3}},
"y": {"field": "aod", "type": "quantitative", "scale": {"domain": [0.1, 0.8], "nice": false, "zero": false}, "axis": {"title": "AOD", "values": [0.1, 0.2, 0.3, 0.4, 0.5, 0.6, 0.7, 0.8], "format": ".1f"}},
"fill": {"field": "series", "type": "nominal", "scale": {"domain": ["DIAL", "AERONET"], "range": ["#0000ff", "#ff0000"]}, "legend": {"title": null, "orient": "none", "legendX": 75, "legendY": 19, "labelExpr": "datum.label == 'DIAL' ? 'DIAL 0-6 km AOD at 299 nm' : 'AERONET AOD at 340 nm'"}},
"stroke": {"field": "series", "type": "nominal", "scale": {"domain": ["DIAL", "AERONET"], "range": ["#0000ff", "#ff0000"]}, "legend": {"title": null, "orient": "none", "legendX": 75, "legendY": 19, "labelExpr": "datum.label == 'DIAL' ? 'DIAL 0-6 km AOD at 299 nm' : 'AERONET AOD at 340 nm'"}},
"shape": {"field": "series", "type": "nominal", "scale": {"domain": ["DIAL", "AERONET"], "range": ["circle", "M-1,0L1,0M0,-1L0,1"]}, "legend": {"title": null, "orient": "none", "legendX": 75, "legendY": 19, "labelExpr": "datum.label == 'DIAL' ? 'DIAL 0-6 km AOD at 299 nm' : 'AERONET AOD at 340 nm'"}},
"size": {"field": "series", "type": "nominal", "scale": {"domain": ["DIAL", "AERONET"], "range": [16, 121]}, "legend": {"title": null, "orient": "none", "legendX": 75, "legendY": 19, "labelExpr": "datum.label == 'DIAL' ? 'DIAL 0-6 km AOD at 299 nm' : 'AERONET AOD at 340 nm'"}}
}
},
{
"data": {"values": [{"panel": "(c)"}]},
"mark": {"type": "text", "align": "left", "baseline": "middle", "fontSize": 36, "color": "#333"},
"encoding": {"x": {"datum": 15.08}, "y": {"datum": 0.76}, "text": {"field": "panel"}}
}
]
},
{
"title": "DIAL Vs. AERONET AOD",
"width": 516, "height": 500,
"layer": [
{
"data": {"name": "d"},
"mark": {"type": "circle", "size": 55, "color": "#0000ff", "opacity": 1},
"encoding": {
"x": {"field": "aeronet", "type": "quantitative", "scale": {"domain": [0, 1], "nice": false}, "axis": {"title": "AERONET AOD at 340nm", "values": [0, 0.1, 0.2, 0.3, 0.4, 0.5, 0.6, 0.7, 0.8, 0.9, 1.0], "format": ".1f", "grid": true, "gridDash": [5, 4], "gridColor": "#555", "gridWidth": 1, "labelFontSize": 20, "labelPadding": 1, "titlePadding": 2, "titleFontSize": 25}},
"y": {"field": "dial", "type": "quantitative", "scale": {"domain": [0, 1], "nice": false}, "axis": {"title": "DIAL 0-6 km AOD at 299nm", "values": [0, 0.1, 0.2, 0.3, 0.4, 0.5, 0.6, 0.7, 0.8, 0.9, 1.0], "format": ".1f", "grid": true, "gridDash": [5, 4], "gridColor": "#555", "gridWidth": 1, "labelFontSize": 20, "labelPadding": 2, "titlePadding": 6, "titleFontSize": 25}}
}
},
{
"data": {"name": "dline"},
"mark": {"type": "line", "color": "#ff0000", "strokeWidth": 2},
"encoding": {"x": {"field": "aeronet", "type": "quantitative"}, "y": {"field": "dial", "type": "quantitative"}}
},
{
"data": {"name": "dtext"},
"mark": {"type": "text", "align": "left", "baseline": "middle", "fontSize": 25, "color": "#ff3b4e", "opacity": 0.85},
"encoding": {"x": {"field": "aeronet", "type": "quantitative"}, "y": {"field": "dial", "type": "quantitative"}, "text": {"field": "label"}}
},
{
"data": {"values": [{"panel": "(d)"}]},
"mark": {"type": "text", "align": "left", "baseline": "middle", "fontSize": 36, "color": "#333"},
"encoding": {"x": {"datum": 0.006}, "y": {"datum": 0.944}, "text": {"field": "panel"}}
}
]
}
],
"config": {
"font": "Liberation Serif",
"view": {"stroke": "black", "strokeWidth": 3},
"axis": {"domain": false, "grid": false, "labelFlush": false, "labelOverlap": false, "labelFont": "Liberation Serif", "labelFontSize": 24, "labelColor": "#222", "titleFont": "Liberation Serif", "titleFontSize": 26, "titleFontWeight": "normal", "titleColor": "#222", "tickColor": "black", "tickSize": 5, "tickWidth": 1.5, "labelPadding": 7, "titlePadding": 7},
"title": {"font": "Liberation Serif", "fontSize": 28, "fontWeight": "normal", "color": "#222", "offset": 2},
"text": {"font": "Liberation Serif"},
"legend": {"labelFont": "Liberation Serif", "labelFontSize": 25, "labelColor": "#222", "labelLimit": 0, "rowPadding": 8, "labelOffset": 32, "padding": 0, "symbolStrokeWidth": 1.5}
}
}
